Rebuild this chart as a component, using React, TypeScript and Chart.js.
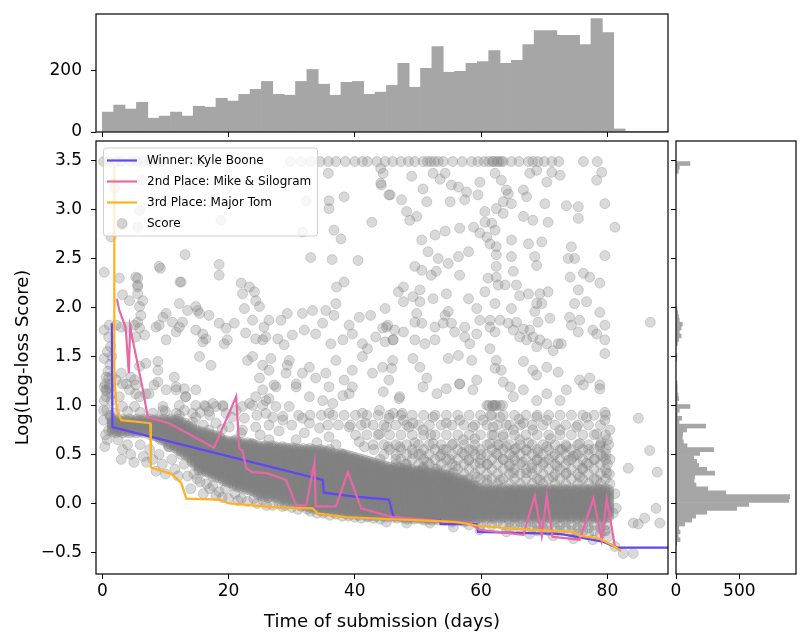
import { useEffect, useRef } from "react";
import { Chart, registerables } from "chart.js";

Chart.register(...registerables);

const FONT_FAMILY = "'DejaVu Sans', sans-serif";
const BLUE = "rgb(97, 70, 245)";
const PINK = "rgb(232, 104, 166)";
const ORANGE = "rgb(255, 177, 32)";
const SCORE_FILL = "rgba(128, 128, 128, 0.3)";
const HIST_FILL = "rgb(166, 166, 166)";

const X_MIN = -1.0;
const X_MAX = 89.6;
const Y_MIN = -0.72;
const Y_MAX = 3.7;

const dayTicks = [0, 20, 40, 60, 80];
const scoreTicks = [-0.5, 0, 0.5, 1, 1.5, 2, 2.5, 3, 3.5];
const topCountTicks = [0, 200];
const sideCountTicks = [0, 500];

// best-score lines of the three leaders
const winnerDays = [1.5, 1.6, 34.9, 35.1, 40.0, 45.4, 46.2, 53.5, 53.6, 59.3, 59.5, 72.5, 79.3, 81.5, 89.6];
const winnerScores = [1.84, 0.78, 0.24, 0.11, 0.07, 0.04, -0.16, -0.17, -0.21, -0.21, -0.29, -0.31, -0.39, -0.45, -0.45];

const secondDays = [2.3, 2.7, 3.7, 4.2, 4.4, 6.4, 7.2, 10.5, 17.7, 21.2, 21.7, 22.2, 22.8, 23.8, 26.0, 29.1, 30.7, 32.3, 33.6, 33.8, 37.0, 38.9, 41.0, 45.4, 46.1, 58.2, 59.8, 66.7, 68.5, 69.6, 70.4, 71.3, 75.6, 77.8, 79.1, 79.9, 81.2, 82.0];
const secondScores = [2.09, 1.97, 1.8, 1.33, 1.8, 1.17, 0.88, 0.82, 0.57, 1.09, 0.56, 0.54, 0.36, 0.32, 0.31, 0.24, -0.02, -0.02, 0.42, -0.03, -0.03, 0.32, -0.05, -0.13, -0.14, -0.2, -0.27, -0.32, 0.08, -0.33, 0.08, -0.34, -0.37, 0.05, -0.37, 0.05, -0.44, -0.48];

const thirdDays = [1.9, 1.9, 2.3, 3.0, 7.6, 7.7, 8.5, 10.1, 11.0, 12.5, 13.3, 18.5, 20.1, 27.5, 33.3, 34.1, 38.6, 45.4, 49.7, 56.1, 59.8, 67.7, 74.6, 75.6, 78.8, 80.9, 82.2];
const thirdScores = [3.45, 1.3, 0.95, 0.85, 0.82, 0.37, 0.35, 0.32, 0.3, 0.21, 0.05, 0.04, 0.0, -0.04, -0.05, -0.1, -0.14, -0.16, -0.17, -0.19, -0.23, -0.27, -0.29, -0.33, -0.36, -0.43, -0.49];

const legendLabels = ["Winner: Kyle Boone", "2nd Place: Mike & Silogram", "3rd Place: Major Tom", "Score"];

// submissions capped at the top of the range
const capScore = 3.49;
const capDays = [0.2, 1.0, 2.2, 3.0, 4.5, 5.5, 6.5, 7.5, 8.8, 9.5, 14.0, 15.2, 16.3, 29.8, 31.5, 33.0, 34.5, 35.8, 37.0, 38.5, 40.0, 41.2, 42.0, 43.5, 44.8, 46.0, 47.3, 48.5, 49.5, 50.8, 51.5, 52.0, 52.6, 53.2, 54.0, 55.5, 57.0, 58.5, 59.5, 60.5, 61.2, 61.8, 62.0, 62.5, 62.8, 63.2, 63.5, 64.8, 66.0, 67.5, 68.2, 69.0, 70.0, 71.2, 72.3, 76.2, 78.4];

// positions along the time axis where the crowded parts of the cloud sit
const crowdDaysA = [1.0, 2.1, 3.2, 4.3, 5.4, 6.5, 7.6, 8.7, 9.8, 10.9, 12.0, 13.1, 14.2, 15.3, 16.4, 17.5, 18.6, 19.7, 20.8, 21.9, 23.0, 24.1, 25.2, 26.3, 27.4, 28.5, 29.6, 30.7, 31.8, 32.9, 34.0, 35.1, 36.2, 37.3, 38.4, 39.5, 40.6, 41.7, 42.8, 43.9, 45.0, 46.1, 47.2, 48.3, 49.4, 50.5, 51.6, 52.7, 53.8, 54.9, 56.0, 57.1, 58.2, 59.3, 60.4, 61.5, 62.6, 63.7, 64.8, 65.9, 67.0, 68.1, 69.2, 70.3, 71.4, 72.5, 73.6, 74.7, 75.8, 76.9, 78.0, 79.1, 80.2];
const crowdDaysB = [1.55, 2.65, 3.75, 4.85, 5.95, 7.05, 8.15, 9.25, 10.35, 11.45, 12.55, 13.65, 14.75, 15.85, 16.95, 18.05, 19.15, 20.25, 21.35, 22.45, 23.55, 24.65, 25.75, 26.85, 27.95, 29.05, 30.15, 31.25, 32.35, 33.45, 34.55, 35.65, 36.75, 37.85, 38.95, 40.05, 41.15, 42.25, 43.35, 44.45, 45.55, 46.65, 47.75, 48.85, 49.95, 51.05, 52.15, 53.25, 54.35, 55.45, 56.55, 57.65, 58.75, 59.85, 60.95, 62.05, 63.15, 64.25, 65.35, 66.45, 67.55, 68.65, 69.75, 70.85, 71.95, 73.05, 74.15, 75.25, 76.35, 77.45, 78.55, 79.65, 80.6];
const looseDaysA = [12.3, 14.1, 15.8, 17.7, 19.4, 21.3, 23.0, 24.9, 26.6, 28.5, 30.2, 32.1, 33.8, 35.7, 37.4, 39.3, 41.0, 42.9, 44.6, 46.5, 48.2, 50.1, 51.8, 53.7, 55.4, 57.3, 59.0, 60.9, 62.6, 64.5, 66.2, 68.1, 69.8, 71.7, 73.4, 75.3, 77.0, 78.9, 80.4];
const looseDaysB = [13.2, 15.0, 16.8, 18.5, 20.3, 22.1, 23.9, 25.7, 27.5, 29.3, 31.1, 32.9, 34.7, 36.5, 38.3, 40.1, 41.9, 43.7, 45.5, 47.3, 49.1, 50.9, 52.7, 54.5, 56.3, 58.1, 59.9, 61.7, 63.5, 65.3, 67.1, 68.9, 70.7, 72.5, 74.3, 76.1, 77.9, 79.7];
const dayLists = [crowdDaysA, crowdDaysB, looseDaysA, looseDaysB];

// crowded rows of the cloud: [score, first day, last day, day list]
const crowdRows: [number, number, number, number][] = [
  [0.86, 1.5, 12.0, 0], [0.85, 1.5, 12.3, 1], [0.84, 1.5, 12.6, 0], [0.83, 1.5, 12.9, 1], [0.82, 1.5, 13.2, 0], [0.81, 1.5, 13.5, 1],
  [0.8, 1.5, 13.8, 0], [0.79, 1.5, 14.1, 1], [0.78, 1.5, 14.4, 0], [0.77, 1.5, 14.7, 1], [0.76, 1.5, 15.0, 0], [0.75, 1.5, 15.4, 1],
  [0.74, 1.5, 15.9, 0], [0.73, 1.5, 16.3, 1], [0.72, 1.5, 16.8, 0], [0.71, 7.3, 17.2, 1], [0.7, 7.6, 17.7, 0], [0.69, 7.9, 18.1, 1],
  [0.68, 8.2, 18.6, 0], [0.67, 8.5, 19.0, 1], [0.66, 8.8, 19.5, 0], [0.65, 9.1, 20.2, 1], [0.64, 9.4, 21.0, 0], [0.63, 9.7, 22.0, 1],
  [0.62, 10.0, 23.0, 0], [0.61, 10.3, 24.0, 1], [0.6, 10.5, 25.0, 0], [0.59, 10.8, 27.0, 1], [0.58, 11.0, 29.0, 0], [0.57, 11.3, 31.0, 1],
  [0.56, 11.5, 33.0, 0], [0.55, 11.8, 35.0, 1], [0.54, 12.0, 35.7, 0], [0.53, 12.3, 36.4, 1], [0.52, 12.5, 37.1, 0], [0.51, 12.8, 37.9, 1],
  [0.5, 13.0, 38.6, 0], [0.49, 13.2, 39.3, 1], [0.48, 13.3, 40.0, 0], [0.47, 13.4, 40.6, 1], [0.46, 13.5, 41.2, 0], [0.45, 13.7, 41.8, 1],
  [0.44, 13.8, 42.4, 0], [0.43, 14.0, 43.0, 1], [0.42, 14.1, 43.6, 0], [0.41, 14.2, 44.2, 1], [0.4, 14.3, 44.8, 0], [0.39, 14.5, 45.4, 1],
  [0.38, 14.6, 46.0, 0], [0.37, 14.8, 47.1, 1], [0.36, 14.9, 48.3, 0], [0.35, 15.1, 49.4, 1], [0.34, 15.3, 50.5, 0], [0.33, 15.6, 51.6, 1],
  [0.32, 16.0, 52.8, 0], [0.31, 16.3, 53.9, 1], [0.3, 16.7, 55.0, 0], [0.29, 17.0, 55.4, 1], [0.28, 17.3, 55.7, 0], [0.27, 17.7, 56.1, 1],
  [0.26, 18.0, 56.4, 0], [0.25, 18.3, 56.8, 1], [0.24, 18.7, 57.1, 0], [0.23, 19.0, 57.5, 1], [0.22, 19.3, 57.9, 0], [0.21, 19.7, 58.2, 1],
  [0.2, 20.0, 58.6, 0], [0.19, 20.4, 58.9, 1], [0.18, 20.8, 59.3, 0], [0.17, 21.2, 59.6, 1], [0.16, 21.7, 60.0, 0], [0.15, 22.1, 80.5, 1],
  [0.14, 22.5, 80.5, 0], [0.13, 22.9, 80.5, 1], [0.12, 23.3, 80.5, 0], [0.11, 23.8, 80.5, 1], [0.1, 24.2, 80.5, 0], [0.09, 24.6, 80.5, 1],
  [0.08, 25.0, 80.5, 0], [0.07, 25.7, 80.5, 1], [0.06, 26.3, 80.5, 0], [0.05, 26.9, 80.5, 1], [0.04, 27.5, 80.5, 0], [0.03, 28.2, 80.5, 1],
  [0.02, 28.8, 80.5, 0], [0.01, 29.4, 80.5, 1], [0.0, 30.0, 80.5, 0], [-0.01, 30.7, 80.5, 1], [-0.02, 31.3, 80.5, 0], [-0.03, 31.9, 80.5, 1],
  [-0.04, 32.5, 80.5, 0], [-0.05, 33.2, 80.5, 1], [-0.06, 33.8, 80.5, 0], [-0.07, 34.4, 80.5, 1], [-0.08, 35.0, 80.5, 0], [-0.09, 36.3, 80.5, 1],
  [-0.1, 37.5, 80.5, 0], [-0.11, 38.8, 80.5, 1], [-0.12, 40.0, 80.5, 0], [-0.13, 42.0, 80.5, 1], [-0.14, 44.0, 80.5, 0], [-0.15, 46.0, 80.5, 1],
  [-0.16, 48.0, 60.0, 0], [-0.17, 50.0, 58.0, 1],
  [-0.19, 55.0, 80.0, 2], [-0.22, 58.0, 80.0, 3], [-0.25, 63.0, 80.0, 2], [-0.28, 68.0, 80.0, 3], [-0.31, 74.0, 80.0, 2],
  [0.2, 60.0, 80.0, 2], [0.25, 58.0, 80.0, 3], [0.3, 56.0, 80.0, 2], [0.35, 50.0, 80.0, 3], [0.4, 46.0, 80.0, 2], [0.45, 46.0, 80.0, 3],
  [0.5, 44.0, 80.0, 2], [0.55, 44.0, 80.0, 3], [0.6, 42.0, 80.0, 2], [0.7, 40.0, 80.0, 3], [0.8, 35.0, 80.0, 2], [0.9, 30.0, 80.0, 3],
];

// the scattered submissions outside the crowded rows
const scatterPoints: [number, number][] = [
  [1.4, 2.72], [5.9, 2.99], [5.6, 2.82], [18.8, 2.89], [13.1, 2.54], [18.5, 2.44], [18.5, 2.33], [9.2, 2.4], [0.3, 2.36], [12.3, 2.26],
  [5.6, 2.3], [5.6, 2.21], [33.0, 2.51], [36.4, 2.49], [40.5, 2.48], [37.1, 2.21], [38.3, 2.26], [32.3, 3.09], [35.9, 3.09], [35.9, 3.01],
  [36.7, 2.79], [37.8, 2.7], [38.3, 3.13], [44.1, 3.27], [42.7, 2.87], [45.4, 3.15], [35.8, 3.37], [44.1, 3.42], [31.7, 2.77], [3.2, 2.84],
  [2.0, 3.22], [6.2, 3.3],
  [31.7, 1.94], [33.3, 1.97], [34.9, 1.84], [35.4, 1.97], [37.0, 2.04], [36.7, 1.92], [39.1, 1.82], [40.7, 1.9], [41.2, 1.63], [42.5, 1.92],
  [44.4, 1.79], [45.2, 1.82], [46.0, 1.67], [43.3, 1.7], [42.0, 1.58], [39.6, 1.73], [38.1, 1.67], [36.2, 1.63], [33.8, 1.73], [32.0, 1.77],
  [30.1, 1.72], [32.8, 1.39], [35.4, 1.33], [37.0, 1.46], [38.3, 1.26], [39.6, 1.36], [41.2, 1.5], [42.8, 1.33], [44.4, 1.39], [45.4, 1.26],
  [46.0, 1.46], [39.6, 1.19], [35.9, 1.19], [33.8, 1.28], [31.7, 1.33], [30.7, 1.19], [29.6, 1.46],
  [0.3, 1.77], [1.1, 1.82], [2.2, 1.82], [3.0, 1.8], [4.0, 1.8], [5.1, 1.82], [5.6, 1.85], [5.9, 1.79], [6.7, 1.72], [5.3, 1.7],
  [6.1, 1.92], [5.9, 2.01], [6.4, 2.07], [5.6, 2.14], [5.6, 2.23], [5.3, 2.31], [2.7, 2.3], [3.2, 2.13], [4.3, 2.07], [9.0, 2.42],
  [12.5, 2.26], [0.6, 1.29], [0.3, 1.48], [1.1, 1.21], [2.2, 1.26], [3.0, 1.33], [3.8, 1.22], [4.5, 1.29], [5.3, 1.21], [5.9, 1.4],
  [6.9, 1.43], [8.8, 1.45], [8.8, 1.36], [11.4, 1.29], [8.8, 1.24], [7.4, 1.12], [5.3, 1.12], [0.6, 1.16], [0.6, 1.09], [2.7, 1.09],
  [9.6, 1.9], [10.1, 1.94], [11.1, 1.85], [12.2, 1.8], [12.7, 1.85], [8.5, 1.8], [9.0, 1.82], [10.1, 1.67], [11.7, 1.75], [14.8, 2.01],
  [15.1, 1.97], [15.4, 1.94], [16.9, 1.92], [13.5, 1.97], [12.2, 2.04], [14.8, 1.77], [15.9, 1.73], [16.4, 1.68], [15.9, 1.65], [15.4, 1.5],
  [17.2, 1.41], [18.5, 1.84], [19.6, 1.79], [19.8, 1.67], [19.3, 1.63], [20.9, 1.84], [22.0, 2.25], [22.2, 2.14], [23.3, 2.21], [24.1, 2.16],
  [24.3, 2.07], [24.9, 2.01], [22.5, 1.99], [23.8, 1.87], [22.7, 1.74], [24.3, 1.68], [25.4, 1.67], [23.8, 1.5], [23.0, 1.46], [25.6, 1.8],
  [26.4, 1.87], [25.9, 1.7], [28.3, 1.87], [27.8, 1.68], [28.8, 1.62], [29.3, 1.94], [29.3, 1.41], [29.1, 1.33], [26.7, 1.48], [25.4, 1.41],
  [26.4, 1.36], [24.9, 1.28], [25.4, 1.16], [27.2, 1.21], [26.4, 1.07], [24.3, 1.09], [11.7, 1.16], [13.0, 1.17], [13.2, 1.09], [12.2, 1.0],
  [14.8, 1.0], [16.2, 1.0], [18.0, 0.99], [19.1, 1.0], [19.6, 0.92], [16.9, 0.94], [14.3, 0.92], [11.7, 0.92], [9.6, 0.99], [5.1, 0.99],
  [3.2, 0.99], [22.2, 0.99], [23.8, 1.0], [25.4, 1.0], [27.5, 0.99], [29.6, 0.99], [25.9, 0.92], [28.6, 0.89],
  [44.5, 3.37], [44.2, 3.25], [49.0, 3.34], [52.4, 3.37], [53.5, 3.31], [54.3, 3.37], [50.8, 3.21], [55.3, 3.25], [56.4, 3.23], [57.7, 3.18],
  [59.8, 3.28], [59.5, 3.15], [62.2, 3.37], [63.2, 3.3], [64.0, 3.2], [64.3, 3.16], [64.8, 3.06], [66.7, 3.2], [67.2, 3.13], [67.7, 3.37],
  [68.8, 3.4], [70.4, 3.28], [71.2, 3.38], [72.5, 3.35], [45.6, 3.15], [47.4, 3.1], [51.4, 3.08], [55.1, 3.08], [57.4, 3.1], [62.4, 3.01],
  [63.5, 3.08], [70.1, 3.06], [73.5, 3.04], [75.4, 3.03], [78.3, 3.3], [79.1, 3.38], [79.6, 3.06], [48.2, 2.98], [48.7, 2.89], [49.8, 2.93],
  [60.6, 2.98], [60.6, 2.87], [61.7, 2.86], [62.2, 2.79], [63.5, 2.96], [66.7, 2.93], [68.2, 2.89], [70.6, 2.87], [75.4, 2.91], [81.2, 2.82],
  [50.6, 2.69], [52.7, 2.74], [54.3, 2.78], [56.6, 2.81], [58.8, 2.82], [59.8, 2.76], [60.9, 2.72], [61.4, 2.65], [62.4, 2.62], [62.4, 2.54],
  [62.4, 2.42], [64.8, 2.69], [64.8, 2.52], [67.5, 2.65], [69.6, 2.67], [68.5, 2.52], [68.8, 2.43], [74.3, 2.62], [73.8, 2.5], [74.8, 2.5],
  [76.2, 2.35], [77.2, 2.31], [78.8, 2.25], [79.6, 2.53], [51.6, 2.57], [53.2, 2.5], [54.8, 2.45], [56.4, 2.52], [58.0, 2.57], [49.5, 2.42],
  [50.6, 2.38], [52.1, 2.33], [52.9, 2.37], [56.6, 2.33], [61.1, 2.3], [62.4, 2.31], [65.1, 2.37], [65.6, 2.23], [63.8, 2.23], [62.7, 2.23],
  [60.6, 2.16], [66.1, 2.12], [67.5, 2.14], [69.3, 2.14], [70.6, 2.16], [69.6, 2.04], [75.4, 2.18], [74.8, 2.04], [76.7, 2.06], [74.1, 2.31],
  [46.9, 2.16], [47.7, 2.21], [47.7, 2.06], [49.2, 2.11], [50.3, 2.18], [50.3, 2.06], [52.4, 2.09], [54.5, 2.14], [54.8, 1.96], [58.0, 2.09],
  [59.3, 1.99], [62.2, 2.04], [64.8, 1.99], [68.5, 1.96], [68.8, 2.04], [70.9, 1.89], [72.7, 1.63], [74.0, 1.9], [75.6, 1.87], [74.3, 1.82],
  [75.4, 1.75], [77.7, 1.77], [78.3, 1.73], [78.8, 1.95], [79.6, 1.82], [79.6, 1.67], [79.6, 1.53], [86.8, 1.85], [44.8, 1.99], [45.0, 1.8],
  [46.3, 1.77], [44.8, 1.65], [46.1, 1.67], [47.7, 1.75], [49.8, 1.94], [49.5, 1.85], [50.6, 1.84], [49.5, 1.67], [51.1, 1.63], [52.7, 1.8],
  [52.7, 1.67], [54.0, 1.84], [54.3, 1.92], [55.3, 1.84], [55.8, 1.75], [57.4, 1.8], [57.4, 1.7], [58.2, 1.63], [59.3, 1.73], [59.8, 1.87],
  [61.4, 1.87], [61.4, 1.8], [62.2, 1.75], [63.0, 1.87], [64.3, 1.84], [65.1, 1.77], [65.6, 1.85], [66.1, 1.7], [66.7, 1.78], [67.2, 1.67],
  [67.7, 1.77], [68.2, 1.7], [69.0, 1.85], [69.3, 1.67], [68.8, 1.6], [70.4, 1.63], [71.4, 1.56], [72.2, 1.63], [49.2, 1.48], [50.3, 1.39],
  [45.8, 1.38], [54.8, 1.48], [56.4, 1.51], [58.5, 1.46], [61.4, 1.58], [62.4, 1.46], [63.2, 1.36], [62.2, 1.38], [66.7, 1.45], [68.2, 1.36],
  [68.8, 1.31], [70.4, 1.39], [72.2, 1.34], [75.6, 1.26], [77.2, 1.28], [78.8, 1.21], [51.4, 1.28], [56.6, 1.22], [59.3, 1.26], [63.5, 1.24],
  [64.6, 1.19],
  [0.3, 1.19], [1.4, 1.12], [3.2, 1.22], [4.3, 1.16], [5.1, 1.26], [5.9, 1.09], [6.9, 1.12], [8.2, 1.21], [10.1, 1.16], [11.7, 1.19],
  [13.2, 1.09], [14.8, 1.16], [16.4, 0.99], [17.5, 1.02], [19.1, 0.99], [21.2, 0.95], [23.3, 1.02], [25.9, 1.05], [27.5, 1.19], [30.7, 1.22],
  [32.8, 1.09], [34.9, 1.05], [36.5, 1.02], [38.1, 1.1], [39.1, 1.12], [41.7, 0.82], [43.9, 0.95], [45.4, 0.87], [47.0, 1.07], [47.5, 0.92],
  [48.6, 0.78], [43.9, 0.71], [41.2, 0.92], [35.9, 0.92], [31.7, 0.87], [28.6, 0.85], [26.4, 0.8], [24.3, 0.78], [22.2, 0.75], [20.1, 0.78],
  [18.0, 0.82], [14.8, 0.88], [12.2, 0.9], [9.6, 0.95], [12.2, 0.78], [14.3, 0.83], [16.9, 0.75], [32.8, 0.82], [34.4, 0.77], [39.1, 0.78],
  [40.7, 0.63], [35.9, 0.68], [30.7, 0.65], [26.4, 0.65], [23.8, 0.61], [21.2, 0.65], [19.1, 0.63], [14.8, 0.68], [12.7, 0.68], [10.6, 0.58],
  [9.0, 0.68], [8.0, 0.77],
  [44.5, 1.14], [47.1, 1.09], [50.8, 1.19], [53.0, 1.12], [54.5, 1.17], [56.6, 1.22], [58.7, 1.16], [60.9, 1.0], [61.9, 1.0], [63.0, 1.0],
  [65.1, 1.09], [66.7, 1.16], [68.8, 1.05], [70.4, 1.12], [72.5, 1.05], [73.5, 1.16], [76.2, 1.21], [78.8, 1.17], [79.6, 0.93], [76.7, 0.88],
  [75.1, 0.78], [72.5, 0.75], [70.4, 0.85], [68.8, 0.88], [66.7, 0.82], [65.1, 0.75], [63.5, 0.68], [61.9, 0.78], [60.3, 0.85], [58.7, 0.78],
  [56.6, 0.85], [54.5, 0.82], [52.4, 0.88], [50.8, 0.75], [49.2, 0.82], [47.7, 0.85], [46.1, 0.92], [45.0, 0.78], [45.3, 0.58], [47.1, 0.58],
  [49.2, 0.51], [50.8, 0.37], [52.4, 0.61], [53.5, 0.48], [55.6, 0.61], [57.2, 0.65], [58.7, 0.54], [59.8, 0.41], [61.4, 0.61], [62.4, 0.51],
  [64.0, 0.58], [65.1, 0.48], [66.1, 0.65], [67.2, 0.54], [68.2, 0.75], [68.8, 0.44], [70.4, 0.58], [71.4, 0.48], [73.5, 0.58], [74.6, 0.48],
  [75.6, 0.61], [76.7, 0.41], [78.3, 0.71], [78.8, 0.58], [79.3, 0.48], [79.9, 0.31], [78.3, 0.24], [75.6, 0.27], [73.5, 0.31], [71.4, 0.27],
  [69.3, 0.24], [67.2, 0.31], [65.1, 0.31], [63.0, 0.24], [60.9, 0.24], [59.3, 0.27], [57.7, 0.24], [55.6, 0.31], [53.5, 0.24], [51.4, 0.24],
  [49.2, 0.27], [47.1, 0.31], [45.6, 0.34], [78.8, 0.14], [79.3, 0.03], [79.9, -0.07], [79.1, -0.17], [79.6, -0.27], [80.1, -0.34], [78.5, -0.03],
  [80.4, 0.2], [45.0, -0.19], [48.2, -0.2], [51.9, -0.2], [55.6, -0.24], [59.8, -0.27], [64.0, -0.29], [67.7, -0.31], [71.4, -0.33], [74.6, -0.36],
  [77.7, -0.37],
  [46.5, 0.45], [48.0, 0.4], [49.5, 0.62], [50.5, 0.5], [51.5, 0.42], [52.0, 0.7], [53.0, 0.35], [54.0, 0.55], [55.0, 0.45], [56.0, 0.38],
  [57.0, 0.52], [58.0, 0.44], [59.0, 0.66], [60.0, 0.5], [61.0, 0.4], [62.0, 0.7], [62.8, 0.6], [63.5, 0.45], [64.5, 0.38], [65.5, 0.56],
  [66.5, 0.42], [67.5, 0.62], [68.0, 0.36], [69.0, 0.52], [70.0, 0.42], [71.0, 0.66], [72.0, 0.38], [72.8, 0.55], [73.8, 0.44], [75.0, 0.5],
  [76.0, 0.36], [77.0, 0.55], [78.0, 0.45], [79.0, 0.62], [80.0, 0.4], [64.0, 0.8], [66.0, 0.86], [61.5, 0.9], [63.0, 0.88], [62.2, 1.0],
  [61.2, 1.0], [61.8, 1.0], [62.4, 1.0], [63.4, 1.0],
  [80.3, 0.3], [80.4, 0.45], [80.2, 0.6], [80.4, 0.75], [79.8, 0.5], [80.0, 0.65], [79.6, 0.85],
  [2.0, 0.92], [4.0, 0.94], [6.0, 0.93], [8.0, 0.92], [10.0, 0.94], [13.0, 0.95], [15.5, 0.93], [17.0, 0.9], [20.5, 0.88], [22.5, 0.87],
  [24.5, 0.9], [27.0, 0.88], [30.0, 0.8], [32.0, 0.72], [34.0, 0.62], [28.0, 0.74], [25.0, 0.7], [22.0, 0.72], [19.0, 0.76], [16.0, 0.8],
  [36.0, 0.55], [38.0, 0.5], [40.0, 0.45], [42.0, 0.4], [44.0, 0.45], [37.0, 0.6], [41.5, 0.58], [43.0, 0.55],
  [2.5, 0.65], [3.2, 0.55], [3.0, 0.45], [4.0, 0.6], [4.5, 0.5], [5.0, 0.42], [6.0, 0.6], [6.5, 0.48], [7.0, 0.42], [7.5, 0.55],
  [8.0, 0.45], [8.5, 0.33], [9.0, 0.5], [9.5, 0.4], [10.0, 0.3], [10.5, 0.58], [11.0, 0.45], [11.5, 0.35], [12.0, 0.28], [12.5, 0.5],
  [13.0, 0.4], [13.5, 0.28], [14.0, 0.15], [14.5, 0.3], [15.0, 0.25], [15.5, 0.22], [16.0, 0.1], [16.5, 0.2], [17.0, 0.15], [17.5, 0.18],
  [18.0, 0.08], [18.5, 0.12], [19.0, 0.06], [19.5, 0.15], [20.0, 0.05], [21.0, 0.1], [21.5, 0.03], [22.0, 0.05], [23.0, 0.02], [24.0, 0.05],
  [24.5, 0.0], [25.5, 0.03], [26.0, -0.02], [27.0, -0.02], [28.0, 0.0], [28.5, -0.03], [29.0, -0.02], [30.0, -0.04], [31.0, -0.06], [31.5, -0.03],
  [32.5, -0.06], [33.0, -0.08], [34.0, -0.1], [35.0, -0.1], [36.0, -0.12], [37.0, -0.11], [38.0, -0.13], [39.0, -0.13], [40.0, -0.14], [41.0, -0.15],
  [42.0, -0.14], [43.0, -0.15], [44.0, -0.16],
  [81.2, 0.1], [81.4, -0.05], [80.9, -0.1], [85.9, -0.15], [84.1, -0.2], [84.9, -0.21], [87.7, -0.05], [88.3, -0.2], [82.5, -0.51], [84.1, -0.51],
  [81.2, -0.44], [83.3, 0.36], [84.9, 0.87], [86.7, 0.54], [87.9, 0.32],
  [1.0, 1.7], [1.3, 1.6], [0.8, 1.55], [1.5, 1.5], [1.2, 1.42], [0.9, 1.35], [1.5, 1.3], [1.1, 1.18], [1.4, 1.05], [0.7, 0.95],
  [1.3, 0.88], [1.6, 0.82], [0.2, 0.85], [0.2, 0.95], [0.5, 0.7], [0.8, 0.65], [0.4, 0.58], [1.0, 0.75], [1.2, 0.9], [0.3, 1.05],
  [0.6, 1.15], [0.5, 1.22], [1.0, 1.28],
];

// marginal histogram of submission time (50 bins)
const topBinDays = [0.9, 2.7, 4.5, 6.3, 8.1, 9.9, 11.7, 13.5, 15.3, 17.1, 18.9, 20.7, 22.5, 24.3, 26.1, 27.9, 29.7, 31.5, 33.3, 35.1, 36.9, 38.7, 40.5, 42.3, 44.1, 45.9, 47.7, 49.5, 51.3, 53.1, 54.9, 56.7, 58.5, 60.3, 62.1, 63.9, 65.7, 67.5, 69.3, 71.1, 72.9, 74.7, 76.5, 78.3, 80.1, 81.9, 83.7, 85.5, 87.3, 89.1];
const topBinCounts = [65, 88, 75, 97, 45, 52, 65, 52, 84, 81, 110, 101, 123, 139, 165, 123, 120, 165, 204, 156, 120, 162, 165, 123, 130, 152, 224, 146, 208, 279, 195, 198, 224, 230, 266, 224, 234, 285, 331, 331, 315, 315, 285, 370, 324, 10, 2, 2, 2, 2];

// marginal histogram of score
const sideBinScores = [3.47, 3.43, 3.39, 1.99, 1.95, 1.91, 1.87, 1.83, 1.79, 1.75, 1.71, 1.67, 1.63, 1.51, 1.47, 1.23, 1.19, 1.15, 1.11, 1.07, 1.03, 0.99, 0.95, 0.91, 0.87, 0.83, 0.79, 0.75, 0.71, 0.67, 0.63, 0.59, 0.55, 0.51, 0.47, 0.43, 0.39, 0.35, 0.31, 0.27, 0.23, 0.19, 0.15, 0.11, 0.07, 0.03, -0.01, -0.05, -0.09, -0.13, -0.17, -0.21, -0.25, -0.29, -0.33, -0.37, -0.41];
const sideBinCounts = [110, 26, 18, 8, 13, 20, 26, 50, 40, 26, 40, 20, 10, 8, 5, 8, 10, 10, 15, 21, 10, 110, 26, 10, 45, 24, 234, 84, 53, 50, 58, 87, 297, 187, 140, 163, 179, 242, 305, 147, 142, 158, 250, 392, 898, 890, 574, 479, 242, 155, 124, 68, 21, 32, 18, 32, 5];

const tickFont = { family: FONT_FAMILY, size: 17 };
const titleFont = { family: FONT_FAMILY, size: 18 };
const tickGrid = {
  display: true,
  drawOnChartArea: false,
  drawTicks: true,
  tickLength: 5,
  tickWidth: 1,
  tickColor: "#000",
  offset: false,
};

const fixSize = (w?: number, h?: number) => (scale: any) => {
  if (w !== undefined) scale.width = w;
  if (h !== undefined) scale.height = h;
  scale.paddingLeft = 0;
  scale.paddingRight = 0;
  scale.paddingTop = 0;
  scale.paddingBottom = 0;
};

const fixTicks = (values: number[]) => (scale: any) => {
  scale.ticks = values.map((value) => ({ value }));
};

const fmtScore = (v: number) => (v < 0 ? "\u2212" + Math.abs(v).toFixed(1) : v.toFixed(1));

const framePlugin = {
  id: "frame",
  afterDraw(chart: Chart) {
    const { ctx, chartArea: a } = chart;
    ctx.save();
    ctx.strokeStyle = "#000";
    ctx.lineWidth = 1.2;
    ctx.strokeRect(a.left, a.top, a.right - a.left, a.bottom - a.top);
    ctx.restore();
  },
};

const legendColors = [BLUE, PINK, ORANGE, null];

const legendPlugin = {
  id: "boxLegend",
  afterDatasetsDraw(chart: Chart) {
    const { ctx, chartArea: a } = chart;
    const x0 = a.left + 7.5;
    const y0 = a.top + 7;
    ctx.save();
    ctx.beginPath();
    ctx.roundRect(x0, y0, 214, 88, 3);
    ctx.fillStyle = "rgba(255,255,255,0.8)";
    ctx.fill();
    ctx.strokeStyle = "rgba(204,204,204,0.9)";
    ctx.lineWidth = 1;
    ctx.stroke();
    ctx.font = `12px ${FONT_FAMILY}`;
    ctx.textBaseline = "middle";
    legendLabels.forEach((label, i) => {
      const cy = y0 + 12.5 + i * 21;
      const color = legendColors[i];
      if (color) {
        ctx.beginPath();
        ctx.strokeStyle = color;
        ctx.lineWidth = 2.2;
        ctx.moveTo(x0 + 3.5, cy);
        ctx.lineTo(x0 + 33.5, cy);
        ctx.stroke();
      } else {
        ctx.beginPath();
        ctx.fillStyle = SCORE_FILL;
        ctx.strokeStyle = SCORE_FILL;
        ctx.lineWidth = 1;
        ctx.arc(x0 + 18.5, cy, 5, 0, Math.PI * 2);
        ctx.fill();
        ctx.stroke();
      }
      ctx.fillStyle = "#000";
      ctx.fillText(label, x0 + 43.5, cy + 0.5);
    });
    ctx.restore();
  },
};

const pairs = (xs: number[], ys: number[]) => xs.map((x, i) => ({ x, y: ys[i] }));

const App = () => {
  const topRef = useRef<HTMLCanvasElement>(null);
  const mainRef = useRef<HTMLCanvasElement>(null);
  const sideRef = useRef<HTMLCanvasElement>(null);

  useEffect(() => {
    const charts: Chart[] = [];

    const scorePoints = [
      ...capDays.map((x) => ({ x, y: capScore })),
      ...crowdRows.flatMap(([y, from, to, list]) =>
        dayLists[list].filter((x) => x >= from && x <= to).map((x) => ({ x, y }))
      ),
      ...scatterPoints.map(([x, y]) => ({ x, y })),
    ];

    if (mainRef.current) {
      charts.push(
        new Chart(mainRef.current, {
          type: "scatter",
          data: {
            datasets: [
              { label: legendLabels[2], data: pairs(thirdDays, thirdScores), showLine: true, borderColor: ORANGE, borderWidth: 2.2, pointRadius: 0, order: 0 },
              { label: legendLabels[1], data: pairs(secondDays, secondScores), showLine: true, borderColor: PINK, borderWidth: 2.2, pointRadius: 0, order: 1 },
              { label: legendLabels[0], data: pairs(winnerDays, winnerScores), showLine: true, borderColor: BLUE, borderWidth: 2.2, pointRadius: 0, order: 2 },
              {
                label: legendLabels[3],
                data: scorePoints,
                pointBackgroundColor: SCORE_FILL,
                pointBorderColor: SCORE_FILL,
                pointBorderWidth: 1,
                pointRadius: 5,
                order: 3,
              },
            ],
          },
          options: {
            animation: false,
            responsive: false,
            events: [],
            layout: { padding: { top: 10, right: 12, left: 0, bottom: 0 } },
            plugins: { legend: { display: false }, tooltip: { enabled: false } },
            scales: {
              x: {
                type: "linear",
                min: X_MIN,
                max: X_MAX,
                grid: tickGrid,
                border: { display: false },
                ticks: { color: "#000", font: tickFont, padding: 2, maxRotation: 0, callback: (v: any) => String(v) },
                title: { display: true, text: "Time of submission (days)", color: "#000", font: titleFont, padding: { top: 0, bottom: 11 } },
                afterBuildTicks: fixTicks(dayTicks),
                afterFit: fixSize(undefined, 70),
              },
              y: {
                type: "linear",
                min: Y_MIN,
                max: Y_MAX,
                grid: tickGrid,
                border: { display: false },
                ticks: { color: "#000", font: tickFont, padding: 9, callback: (v: any) => fmtScore(Number(v)) },
                title: { display: true, text: "Log(Log-loss Score)", color: "#000", font: titleFont, padding: { top: 13, bottom: 0 } },
                afterBuildTicks: fixTicks(scoreTicks),
                afterFit: fixSize(96, undefined),
              },
            },
          },
          plugins: [framePlugin, legendPlugin],
        })
      );
    }

    if (topRef.current) {
      charts.push(
        new Chart(topRef.current, {
          type: "bar",
          data: {
            datasets: [
              { data: pairs(topBinDays, topBinCounts), backgroundColor: HIST_FILL, borderWidth: 0, barPercentage: 1, categoryPercentage: 1 },
            ],
          },
          options: {
            animation: false,
            responsive: false,
            events: [],
            layout: { padding: { top: 14, right: 12, left: 0, bottom: 0 } },
            plugins: { legend: { display: false }, tooltip: { enabled: false } },
            scales: {
              x: {
                type: "linear",
                min: X_MIN,
                max: X_MAX,
                offset: false,
                grid: tickGrid,
                border: { display: false },
                ticks: { display: false },
                afterBuildTicks: fixTicks(dayTicks),
                afterFit: fixSize(undefined, 14),
              },
              y: {
                type: "linear",
                min: 0,
                max: 385,
                grid: tickGrid,
                border: { display: false },
                ticks: { color: "#000", font: tickFont, padding: 9 },
                afterBuildTicks: fixTicks(topCountTicks),
                afterFit: fixSize(96, undefined),
              },
            },
          },
          plugins: [framePlugin],
        })
      );
    }

    if (sideRef.current) {
      charts.push(
        new Chart(sideRef.current, {
          type: "bar",
          data: {
            datasets: [
              { data: sideBinScores.map((y, i) => ({ x: sideBinCounts[i], y })), backgroundColor: HIST_FILL, borderWidth: 0, barPercentage: 1, categoryPercentage: 1 },
            ],
          },
          options: {
            indexAxis: "y",
            animation: false,
            responsive: false,
            events: [],
            layout: { padding: { top: 10, right: 13, left: 0, bottom: 0 } },
            plugins: { legend: { display: false }, tooltip: { enabled: false } },
            scales: {
              x: {
                type: "linear",
                min: 0,
                max: 948,
                grid: tickGrid,
                border: { display: false },
                ticks: { color: "#000", font: tickFont, padding: 2, maxRotation: 0 },
                afterBuildTicks: fixTicks(sideCountTicks),
                afterFit: fixSize(undefined, 70),
              },
              y: {
                type: "linear",
                min: Y_MIN,
                max: Y_MAX,
                offset: false,
                grid: tickGrid,
                border: { display: false },
                ticks: { display: false },
                afterBuildTicks: fixTicks(scoreTicks),
                afterFit: fixSize(6, undefined),
              },
            },
          },
          plugins: [framePlugin],
        })
      );
    }

    return () => {
      charts.forEach((c) => c.destroy());
    };
  }, []);

  const abs = (left: number, top: number, width: number, height: number) => ({
    position: "absolute" as const,
    left,
    top,
    width,
    height,
  });

  return (
    <div style={{ position: "absolute", left: 0, top: 0, width: 809, height: 644, background: "#fff" }}>
      <canvas ref={topRef} width={680} height={146} style={abs(0, 0, 680, 146)} />
      <canvas ref={sideRef} width={139} height={513} style={abs(670, 131, 139, 513)} />
      <canvas ref={mainRef} width={680} height={513} style={abs(0, 131, 680, 513)} />
    </div>
  );
};

export default App;
